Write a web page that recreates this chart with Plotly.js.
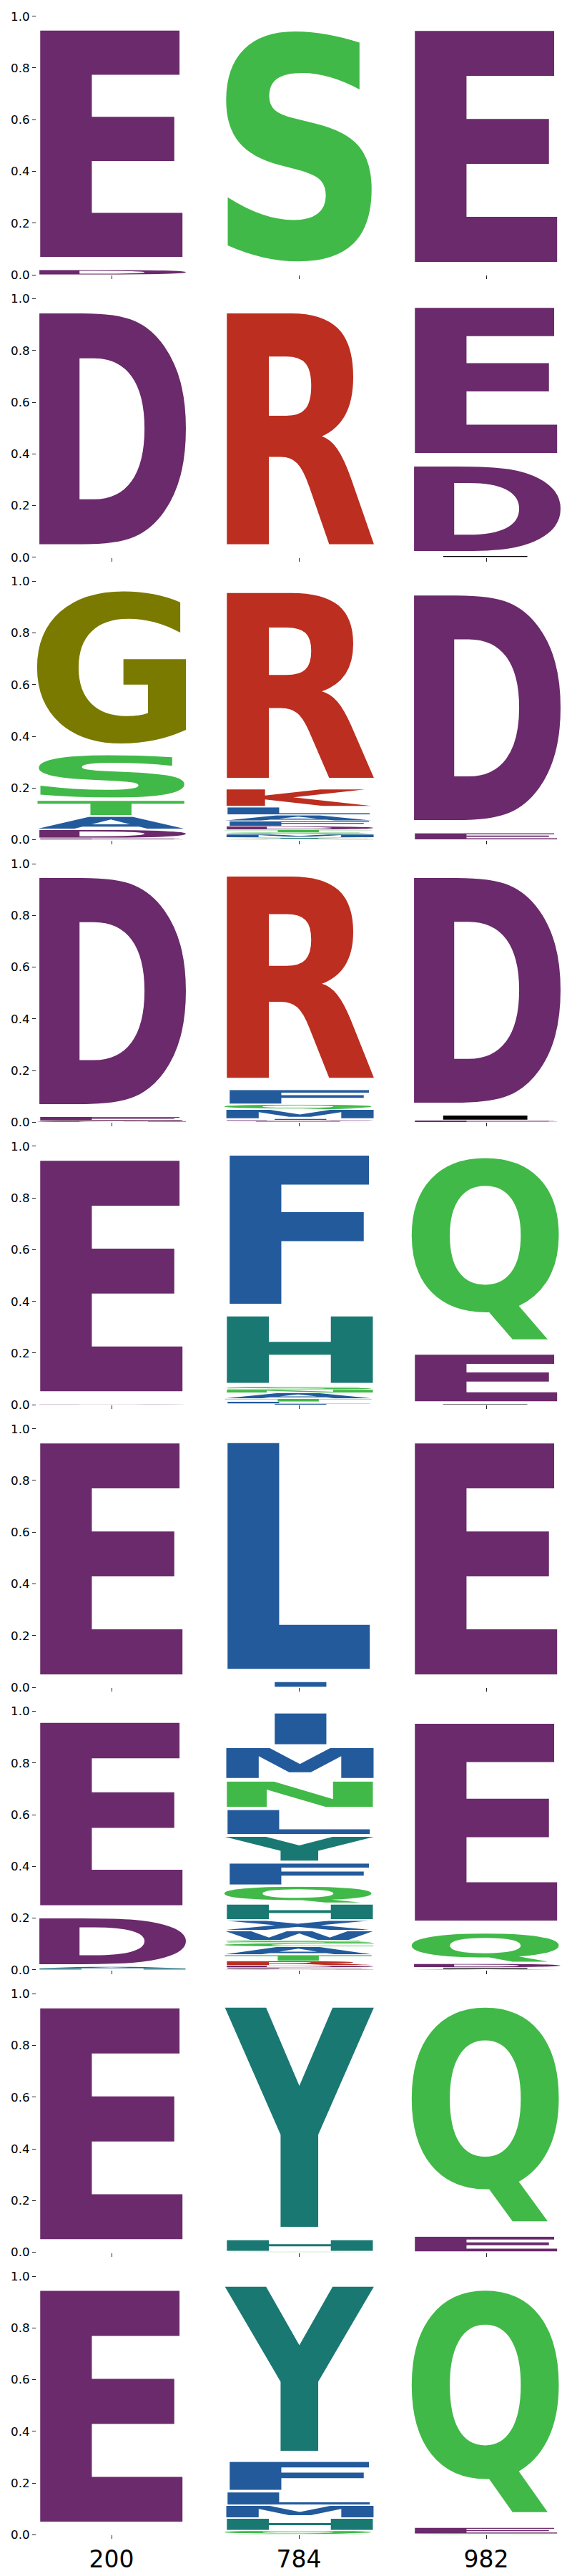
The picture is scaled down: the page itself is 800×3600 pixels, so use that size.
<!DOCTYPE html>
<html><head><meta charset="utf-8">
<script src="https://cdn.plot.ly/plotly-3.0.1.min.js"></script>
<style>html,body{margin:0;padding:0;background:#fff}</style>
</head><body><div id="chart" style="width:800px;height:3600px"></div>
<script>
// ---- data (each stack listed bottom -> top) ----
const columnLabels = ['200', '784', '982'];
const yTickVals = [0, 0.2, 0.4, 0.6, 0.8, 1.0];
const yTickText = ['0.0', '0.2', '0.4', '0.6', '0.8', '1.0'];

const r1_200_chars = ['D', 'E'];            const r1_200_probs = [0.02, 0.98];
const r1_784_chars = ['S'];                 const r1_784_probs = [1.0];
const r1_982_chars = ['E'];                 const r1_982_probs = [1.0];

const r2_200_chars = ['D'];                 const r2_200_probs = [1.0];
const r2_784_chars = ['R'];                 const r2_784_probs = [1.0];
const r2_982_chars = ['-', 'D', 'E'];       const r2_982_probs = [0.005, 0.367, 0.628];

const r3_200_chars = ['E', 'D', 'A', 'T', 'S', 'G'];
const r3_200_probs = [0.006, 0.034, 0.052, 0.062, 0.184, 0.662];
const r3_784_chars = ['G', 'Y', 'M', 'S', 'T', 'D', 'F', 'A', 'L', 'K', 'R'];
const r3_784_probs = [0.004, 0.005, 0.012, 0.008, 0.010, 0.014, 0.020, 0.023, 0.031, 0.072, 0.801];
const r3_982_chars = ['E', 'D'];            const r3_982_probs = [0.027, 0.973];

const r4_200_chars = ['G', 'E', 'D'];       const r4_200_probs = [0.006, 0.015, 0.979];
const r4_784_chars = ['S', '-', 'D', 'I', 'M', 'Q', 'F', 'R'];
const r4_784_probs = [0.002, 0.003, 0.004, 0.005, 0.036, 0.019, 0.059, 0.872];
const r4_982_chars = ['E', '-', 'D'];       const r4_982_probs = [0.008, 0.019, 0.973];

const r5_200_chars = ['D', 'E'];            const r5_200_probs = [0.002, 0.998];
const r5_784_chars = ['I', 'L', 'T', 'A', 'N', 'S', 'H', 'F'];
const r5_784_probs = [0.004, 0.008, 0.012, 0.022, 0.013, 0.011, 0.288, 0.642];
const r5_982_chars = ['-', 'E', 'Q'];       const r5_982_probs = [0.003, 0.202, 0.795];

const r6_200_chars = ['E'];                 const r6_200_probs = [1.0];
const r6_784_chars = ['I', 'L'];            const r6_784_probs = [0.022, 0.978];
const r6_982_chars = ['E'];                 const r6_982_probs = [1.0];

const r7_200_chars = ['H', 'A', 'D', 'E'];  const r7_200_probs = [0.005, 0.007, 0.198, 0.790];
const r7_784_chars = ['G', 'E', 'D', 'R', 'T', 'A', 'C', 'S', 'W', 'X', 'H', 'Q', 'F', 'Y', 'L', 'N', 'M', 'I'];
const r7_784_probs = [0.004, 0.005, 0.008, 0.017, 0.024, 0.032, 0.013, 0.011, 0.038, 0.040, 0.064, 0.069, 0.091, 0.104, 0.104, 0.110, 0.131, 0.134];
const r7_982_chars = ['A', '-', 'D', 'Q', 'E']; const r7_982_probs = [0.003, 0.006, 0.015, 0.123, 0.853];

const r8_200_chars = ['E'];                 const r8_200_probs = [1.0];
const r8_784_chars = ['S', 'H', 'Y'];       const r8_784_probs = [0.003, 0.047, 0.950];
const r8_982_chars = ['E', 'Q'];            const r8_982_probs = [0.064, 0.936];

const r9_200_chars = ['E'];                 const r9_200_probs = [1.0];
const r9_784_chars = ['S', 'Q', 'H', 'M', 'L', 'F', 'Y'];
const r9_784_probs = [0.003, 0.013, 0.049, 0.049, 0.053, 0.122, 0.711];
const r9_982_chars = ['S', 'E', 'Q'];       const r9_982_probs = [0.003, 0.026, 0.971];

const letterColors = {
  E: '#6a2a6b', D: '#6a2a6b',
  S: '#41b948', Q: '#41b948', N: '#41b948', T: '#41b948', C: '#41b948',
  G: '#7a7a00',
  R: '#bc2e20', K: '#bc2e20',
  F: '#235a9c', L: '#235a9c', M: '#235a9c', I: '#235a9c', A: '#235a9c', W: '#235a9c', X: '#235a9c', V: '#235a9c',
  H: '#1a7873', Y: '#1a7873',
  '-': '#000000'
};

const panels = [
  [r1_200_chars, r1_200_probs], [r1_784_chars, r1_784_probs], [r1_982_chars, r1_982_probs],
  [r2_200_chars, r2_200_probs], [r2_784_chars, r2_784_probs], [r2_982_chars, r2_982_probs],
  [r3_200_chars, r3_200_probs], [r3_784_chars, r3_784_probs], [r3_982_chars, r3_982_probs],
  [r4_200_chars, r4_200_probs], [r4_784_chars, r4_784_probs], [r4_982_chars, r4_982_probs],
  [r5_200_chars, r5_200_probs], [r5_784_chars, r5_784_probs], [r5_982_chars, r5_982_probs],
  [r6_200_chars, r6_200_probs], [r6_784_chars, r6_784_probs], [r6_982_chars, r6_982_probs],
  [r7_200_chars, r7_200_probs], [r7_784_chars, r7_784_probs], [r7_982_chars, r7_982_probs],
  [r8_200_chars, r8_200_probs], [r8_784_chars, r8_784_probs], [r8_982_chars, r8_982_probs],
  [r9_200_chars, r9_200_probs], [r9_784_chars, r9_784_probs], [r9_982_chars, r9_982_probs]
];

// ---- glyph measurement (ink bounding boxes) ----
const FS = 1000;
const ctx = document.createElement('canvas').getContext('2d');
ctx.font = 'bold ' + FS + 'px "DejaVu Sans"';
function inkBox(ch) {
  const m = ctx.measureText(ch);
  return { x0: -m.actualBoundingBoxLeft, x1: m.actualBoundingBoxRight,
           y0: -m.actualBoundingBoxAscent, y1: m.actualBoundingBoxDescent };
}
const refBox = inkBox('E');
const refW = refBox.x1 - refBox.x0;
const uriCache = {};
function glyphURI(ch) {
  if (uriCache[ch]) return uriCache[ch];
  const b = inkBox(ch);
  let w = b.x1 - b.x0, vx = b.x0;
  if (w < refW) { const c = (b.x0 + b.x1) / 2; vx = c - refW / 2; w = refW; }
  const h = b.y1 - b.y0;
  const esc = ch === '<' ? '&lt;' : ch === '&' ? '&amp;' : ch;
  const svg = '<svg xmlns="http://www.w3.org/2000/svg" width="' + w + '" height="' + h +
    '" viewBox="' + vx + ' ' + b.y0 + ' ' + w + ' ' + h + '" preserveAspectRatio="none">' +
    '<text x="0" y="0" font-family="DejaVu Sans" font-weight="bold" font-size="' + FS +
    '" fill="' + (letterColors[ch] || '#444') + '">' + esc + '</text></svg>';
  uriCache[ch] = 'data:image/svg+xml;charset=utf-8,' + encodeURIComponent(svg);
  return uriCache[ch];
}

// ---- layout geometry (pixels) ----
const W = 800, H = 3600;
const colLeft = [51, 313, 575], colWidth = 210;
const rowTop0 = 22.7, rowPitch = 394.8, rowHeight = 361.3;
const VPAD = 0.1;

const layout = {
  width: W, height: H, autosize: false,
  margin: { l: 0, r: 0, t: 0, b: 0, pad: 0 },
  paper_bgcolor: '#ffffff', plot_bgcolor: 'rgba(0,0,0,0)',
  showlegend: false, images: []
};
const traces = [];

panels.forEach(function (pn, i) {
  const r = Math.floor(i / 3), c = i % 3, k = i + 1;
  const xs = k === 1 ? '' : String(k);
  const top = rowTop0 + r * rowPitch, bottom = top + rowHeight;
  layout['xaxis' + xs] = {
    domain: [colLeft[c] / W, (colLeft[c] + colWidth) / W],
    anchor: 'y' + xs, range: [-0.5, 0.5],
    tickmode: 'array', tickvals: [0], ticktext: [columnLabels[c]],
    ticks: 'outside', ticklen: 5, tickwidth: 1, tickcolor: '#222',
    showticklabels: r === 8,
    tickfont: { family: 'DejaVu Sans', size: 33, color: '#000' },
    showgrid: false, zeroline: false, showline: false, fixedrange: true
  };
  layout['yaxis' + xs] = {
    domain: [1 - bottom / H, 1 - top / H],
    anchor: 'x' + xs, range: [0, 1],
    tickmode: 'array', tickvals: yTickVals, ticktext: yTickText,
    ticks: c === 0 ? 'outside' : '', ticklen: 5, tickwidth: 1, tickcolor: '#222',
    showticklabels: c === 0,
    tickfont: { family: 'DejaVu Sans', size: 16.7, color: '#000' },
    showgrid: false, zeroline: false, showline: false, fixedrange: true
  };
  traces.push({ type: 'scatter', mode: 'markers', x: [0], y: [0], xaxis: 'x' + xs, yaxis: 'y' + xs,
    marker: { opacity: 0 }, hoverinfo: 'skip', showlegend: false });

  const chars = pn[0], probs = pn[1];
  let floor = 0;
  for (let j = 0; j < chars.length; j++) {
    const p = probs[j];
    layout.images.push({
      source: glyphURI(chars[j]), xref: 'x' + xs, yref: 'y' + xs,
      x: -0.5, y: floor + p * (1 - VPAD / 2), sizex: 1, sizey: p * (1 - VPAD),
      xanchor: 'left', yanchor: 'top', sizing: 'stretch', layer: 'above'
    });
    floor += p;
  }
});

Plotly.newPlot('chart', traces, layout, { staticPlot: true, displayModeBar: false });
</script></body></html>
